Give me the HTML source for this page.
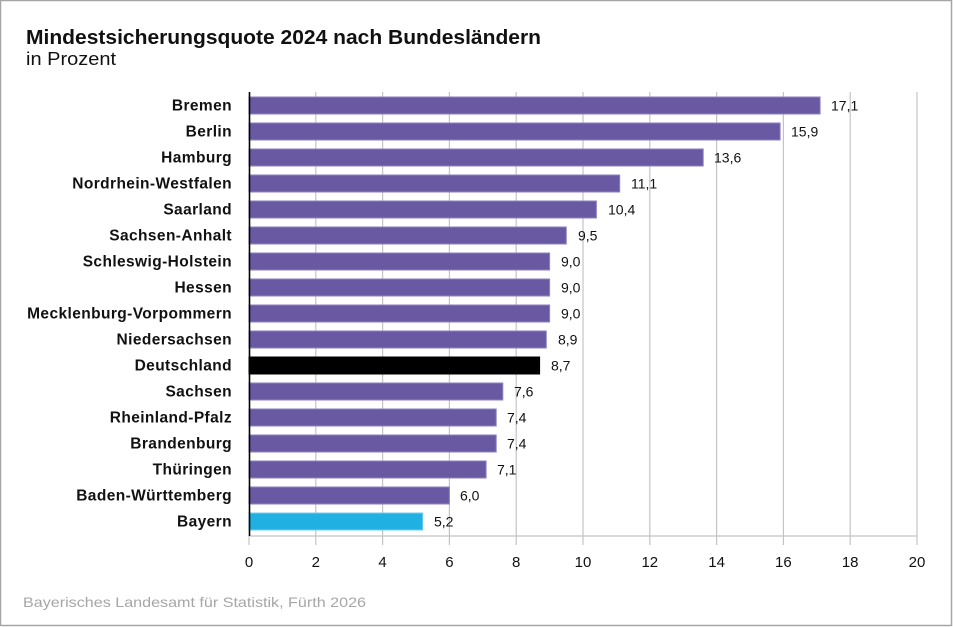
<!DOCTYPE html>
<html><head><meta charset="utf-8"><style>
html,body{margin:0;padding:0;background:#fff;}
svg{display:block;font-family:"Liberation Sans",Arial,sans-serif;}
</style></head><body>
<svg width="953" height="627" viewBox="0 0 953 627" xmlns="http://www.w3.org/2000/svg">
<rect x="0.5" y="0.5" width="951" height="625" fill="#fff" stroke="#a6a6a6" stroke-width="1.5"/>
<text x="26" y="44" font-size="20" font-weight="bold" fill="#111" textLength="515" lengthAdjust="spacingAndGlyphs">Mindestsicherungsquote 2024 nach Bundesländern</text>
<text x="26" y="65" font-size="18" fill="#111" textLength="90" lengthAdjust="spacingAndGlyphs">in Prozent</text>
<g stroke="#c4c4c4" stroke-width="1.2">
<line x1="315.8" y1="92" x2="315.8" y2="545"/>
<line x1="382.6" y1="92" x2="382.6" y2="545"/>
<line x1="449.4" y1="92" x2="449.4" y2="545"/>
<line x1="516.2" y1="92" x2="516.2" y2="545"/>
<line x1="583" y1="92" x2="583" y2="545"/>
<line x1="649.8" y1="92" x2="649.8" y2="545"/>
<line x1="716.6" y1="92" x2="716.6" y2="545"/>
<line x1="783.4" y1="92" x2="783.4" y2="545"/>
<line x1="850.2" y1="92" x2="850.2" y2="545"/>
<line x1="917" y1="92" x2="917" y2="545"/>
<line x1="249" y1="536" x2="249" y2="545"/>
<line x1="249" y1="536" x2="917" y2="536"/>
</g>
<g stroke="#8e82c2" stroke-width="1" fill="#6959a2">
<rect x="249" y="97" width="571.1" height="17"/>
<rect x="249" y="123" width="531.1" height="17"/>
<rect x="249" y="149" width="454.2" height="17"/>
<rect x="249" y="175" width="370.7" height="17"/>
<rect x="249" y="201" width="347.4" height="17"/>
<rect x="249" y="227" width="317.3" height="17"/>
<rect x="249" y="253" width="300.6" height="17"/>
<rect x="249" y="279" width="300.6" height="17"/>
<rect x="249" y="305" width="300.6" height="17"/>
<rect x="249" y="331" width="297.3" height="17"/>
<rect x="249" y="357" width="290.6" height="17" fill="#000" stroke="#000"/>
<rect x="249" y="383" width="253.8" height="17"/>
<rect x="249" y="409" width="247.2" height="17"/>
<rect x="249" y="435" width="247.2" height="17"/>
<rect x="249" y="461" width="237.1" height="17"/>
<rect x="249" y="487" width="200.4" height="17"/>
<rect x="249" y="513" width="173.7" height="17" fill="#20b0e2" stroke="#6fcdf0"/>
</g>
<line x1="249.5" y1="92" x2="249.5" y2="536" stroke="#000" stroke-width="1.6"/>
<g font-size="15.5" font-weight="bold" fill="#111" text-anchor="end" letter-spacing="0.4">
<text x="232" y="110.5">Bremen</text>
<text x="232" y="136.5">Berlin</text>
<text x="232" y="162.5">Hamburg</text>
<text x="232" y="188.5">Nordrhein-Westfalen</text>
<text x="232" y="214.5">Saarland</text>
<text x="232" y="240.5">Sachsen-Anhalt</text>
<text x="232" y="266.5">Schleswig-Holstein</text>
<text x="232" y="292.5">Hessen</text>
<text x="232" y="318.5">Mecklenburg-Vorpommern</text>
<text x="232" y="344.5">Niedersachsen</text>
<text x="232" y="370.5">Deutschland</text>
<text x="232" y="396.5">Sachsen</text>
<text x="232" y="422.5">Rheinland-Pfalz</text>
<text x="232" y="448.5">Brandenburg</text>
<text x="232" y="474.5">Thüringen</text>
<text x="232" y="500.5">Baden-Württemberg</text>
<text x="232" y="526.5">Bayern</text>
</g>
<g font-size="14" fill="#111">
<text x="831" y="110.5">17,1</text>
<text x="791" y="136.5">15,9</text>
<text x="714" y="162.5">13,6</text>
<text x="631" y="188.5">11,1</text>
<text x="608" y="214.5">10,4</text>
<text x="578" y="240.5">9,5</text>
<text x="561" y="266.5">9,0</text>
<text x="561" y="292.5">9,0</text>
<text x="561" y="318.5">9,0</text>
<text x="558" y="344.5">8,9</text>
<text x="551" y="370.5">8,7</text>
<text x="514" y="396.5">7,6</text>
<text x="507" y="422.5">7,4</text>
<text x="507" y="448.5">7,4</text>
<text x="497" y="474.5">7,1</text>
<text x="460" y="500.5">6,0</text>
<text x="434" y="526.5">5,2</text>
</g>
<g font-size="15" fill="#111" text-anchor="middle">
<text x="249" y="567">0</text>
<text x="315.8" y="567">2</text>
<text x="382.6" y="567">4</text>
<text x="449.4" y="567">6</text>
<text x="516.2" y="567">8</text>
<text x="583" y="567">10</text>
<text x="649.8" y="567">12</text>
<text x="716.6" y="567">14</text>
<text x="783.4" y="567">16</text>
<text x="850.2" y="567">18</text>
<text x="917" y="567">20</text>
</g>
<text x="23" y="607" font-size="14" fill="#a6a6a6" textLength="343" lengthAdjust="spacingAndGlyphs">Bayerisches Landesamt für Statistik, Fürth 2026</text>
</svg>
</body></html>
